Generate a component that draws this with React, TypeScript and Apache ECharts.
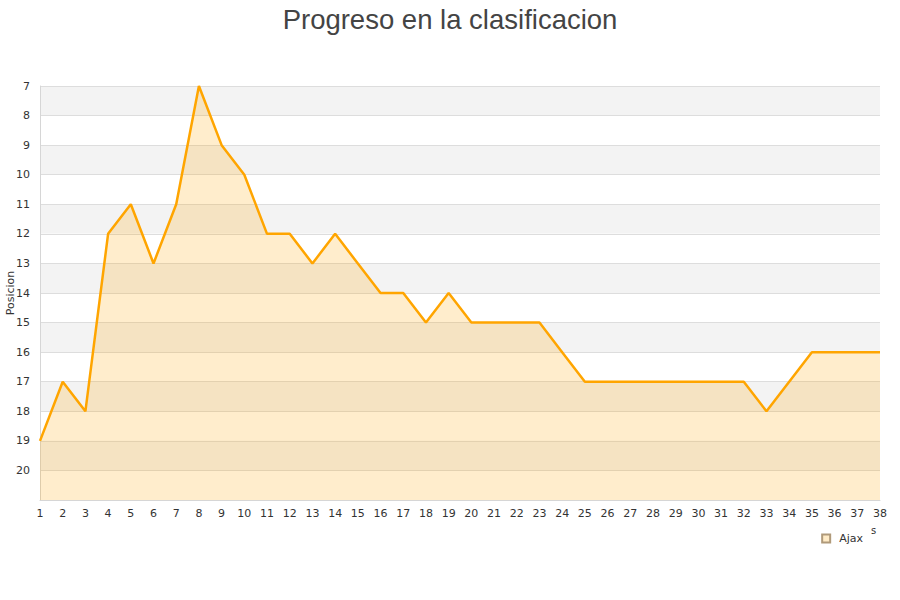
import React, { useEffect, useRef } from "react";
import * as echarts from "echarts";

const jornadas: string[] = Array.from({ length: 38 }, (_, i) => String(i + 1));
const ajaxPositions: number[] = [
  19, 17, 18, 12, 11, 13, 11, 7, 9, 10,
  12, 12, 13, 12, 13, 14, 14, 15, 14, 15,
  15, 15, 15, 16, 17, 17, 17, 17, 17, 17,
  17, 17, 18, 17, 16, 16, 16, 16,
];
const seriesName = "Ajax";
const titleText = "Progreso en la clasificacion";
const yAxisName = "Posicion";

export default function App() {
  const ref = useRef<HTMLDivElement>(null);
  useEffect(() => {
    if (!ref.current) return;
    const chart = echarts.init(ref.current, undefined, { renderer: "svg" });
    chart.setOption({
      animation: false,
      backgroundColor: "#ffffff",
      title: {
        text: titleText,
        left: "center",
        top: 0,
        textStyle: {
          fontFamily: "Liberation Sans, Arial, sans-serif",
          fontSize: 27.5,
          fontWeight: "normal",
          color: "#444444",
        },
      },
      legend: {
        data: [{ name: seriesName, icon: "rect" }],
        right: 32,
        top: 528,
        itemWidth: 8,
        itemHeight: 8,
        itemGap: 10,
        textStyle: { fontFamily: "DejaVu Sans, sans-serif", fontSize: 11, color: "#333", padding: [0, 0, 0, 4] },
      },
      grid: { left: 40, right: 20, top: 86, bottom: 100, containLabel: false, outerBoundsMode: "none" },
      xAxis: {
        type: "category",
        data: jornadas,
        boundaryGap: false,
        axisLine: { show: true, lineStyle: { color: "#d6d6d6" } },
        axisTick: { show: false },
        axisLabel: {
          interval: 0,
          margin: 8,
          fontFamily: "DejaVu Sans, sans-serif",
          fontSize: 11,
          color: "#333",
        },
        splitLine: { show: false },
      },
      yAxis: {
        type: "value",
        inverse: true,
        min: 7,
        max: 21,
        interval: 1,
        name: yAxisName,
        nameLocation: "middle",
        nameGap: 24,
        nameMoveOverlap: false,
        nameTextStyle: { fontFamily: "DejaVu Sans, sans-serif", fontSize: 11, color: "#333" },
        axisLine: { show: true, lineStyle: { color: "#d6d6d6" } },
        axisTick: { show: false },
        axisLabel: {
          margin: 10,
          fontFamily: "DejaVu Sans, sans-serif",
          fontSize: 11,
          color: "#333",
          formatter: (v: number) => (v === 21 ? "" : String(v)),
        },
        splitLine: { show: true, lineStyle: { color: "#dddddd", width: 1 } },
        splitArea: { show: true, areaStyle: { color: ["#f3f3f3", "#ffffff"] } },
      },
      graphic: [
        {
          type: "text",
          left: 871,
          top: 525,
          style: { text: "s", fontFamily: "DejaVu Sans, sans-serif", fontSize: 10, fill: "#333" },
        },
      ],
      series: [
        {
          name: seriesName,
          type: "line",
          data: ajaxPositions,
          showSymbol: false,
          symbol: "none",
          itemStyle: { color: "#ffebc6", borderColor: "#b09a7a", borderWidth: 1 },
          lineStyle: { color: "#ffa500", width: 2.5 },
          areaStyle: { origin: "end", color: "rgba(255,165,0,0.2)", opacity: 1 },
        },
      ],
    });
    return () => chart.dispose();
  }, []);
  return <div ref={ref} style={{ width: 900, height: 600, position: "absolute", left: 0, top: 0 }} />;
}
